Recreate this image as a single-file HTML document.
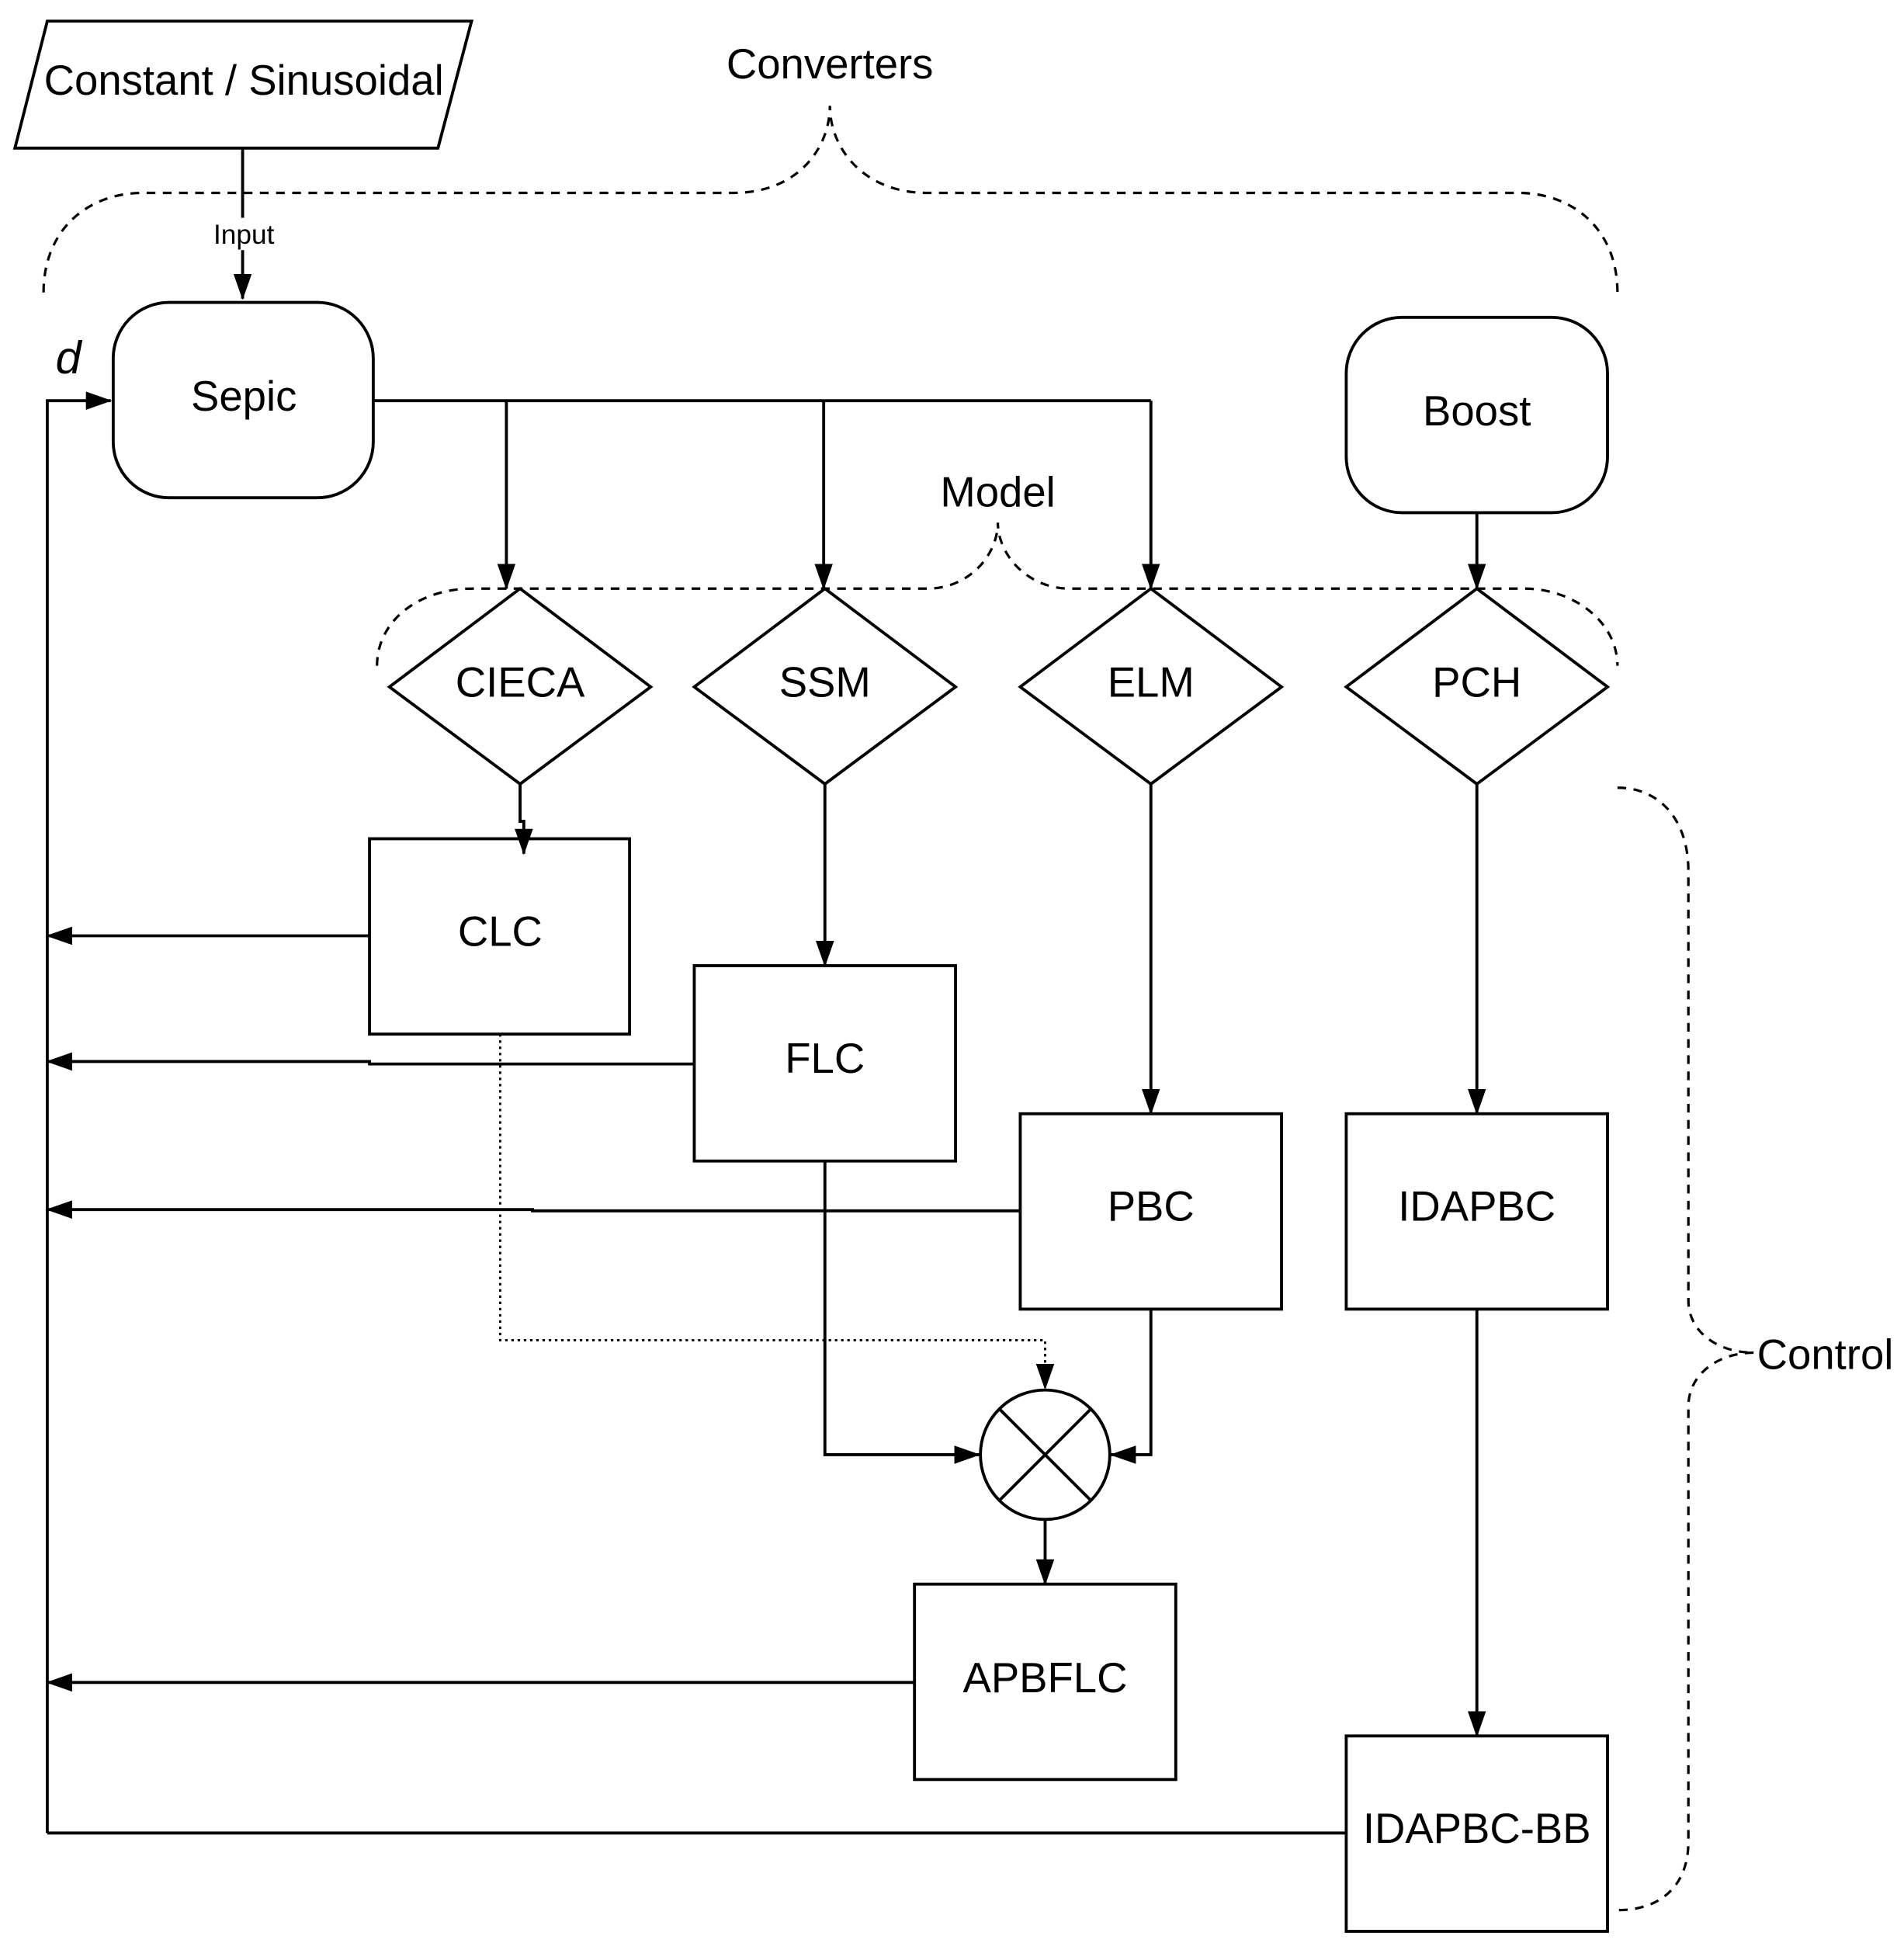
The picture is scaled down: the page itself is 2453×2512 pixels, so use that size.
<!DOCTYPE html>
<html><head><meta charset="utf-8"><style>html,body{margin:0;padding:0;background:#fff}svg{display:block}</style></head>
<body>
<svg width="2453" height="2512" viewBox="0 0 1530.3 1567" preserveAspectRatio="none" xmlns="http://www.w3.org/2000/svg" font-family="'Liberation Sans', sans-serif">
<defs>
<marker id="a" viewBox="0 0 20 14" refX="19" refY="7" markerWidth="21" markerHeight="15" markerUnits="userSpaceOnUse" orient="auto"><path d="M0,0 L20,7 L0,14 Z" fill="#000"/></marker>
</defs>
<rect width="1530.3" height="1567" fill="#fff"/>
<g fill="none" stroke="#000" stroke-width="2.4">
<g stroke-dasharray="7,6" stroke-width="2">
<path d="M35,235 C35,185 70,155 115,155 L590,155 C640,155 667,120 667,85 C667,120 695,155 745,155 L1220,155 C1265,155 1300,185 1300,235"/>
<path d="M303,535 C303,500 335,473 380,473 L745,473 C780,473 802,445 802,420 C802,445 825,473 860,473 L1225,473 C1265,473 1300,500 1300,535"/>
<path d="M1300,633 C1335,633 1357,660 1357,700 L1357,1045 C1357,1070 1380,1087 1410,1087 C1380,1087 1357,1105 1357,1130 L1357,1480 C1357,1515 1335,1535 1300,1535"/>
</g>
<path d="M38,17 L379,17 L352,119 L12,119 Z"/>
<rect x="91" y="243" width="209" height="157" rx="45"/>
<rect x="1082" y="255" width="210" height="157" rx="45"/>
<path d="M418,473 L523,552 L418,630 L313,552 Z"/>
<path d="M663,473 L768,552 L663,630 L558,552 Z"/>
<path d="M925,473 L1030,552 L925,630 L820,552 Z"/>
<path d="M1187,473 L1292,552 L1187,630 L1082,552 Z"/>
<rect x="297" y="674" width="209" height="157"/>
<rect x="558" y="776" width="210" height="157"/>
<rect x="820" y="895" width="210" height="157"/>
<rect x="1082" y="895" width="210" height="157"/>
<rect x="735" y="1273" width="210" height="157"/>
<rect x="1082" y="1395" width="210" height="157"/>
<circle cx="840" cy="1169" r="52"/>
<path d="M803,1132 L877,1206 M877,1132 L803,1206"/>
<path d="M195,119 L195,240" marker-end="url(#a)"/>
<path d="M38,1473 L38,322 L89,322" marker-end="url(#a)"/>
<path d="M1082,1473 L38,1473"/>
<path d="M300,322 L925,322"/>
<path d="M407,322 L407,473" marker-end="url(#a)"/>
<path d="M662,322 L662,473" marker-end="url(#a)"/>
<path d="M925,322 L925,473" marker-end="url(#a)"/>
<path d="M1187,412 L1187,473" marker-end="url(#a)"/>
<path d="M418,630 L418,660 L421,660 L421,686" marker-end="url(#a)"/>
<path d="M663,630 L663,776" marker-end="url(#a)"/>
<path d="M925,630 L925,895" marker-end="url(#a)"/>
<path d="M1187,630 L1187,895" marker-end="url(#a)"/>
<path d="M663,933 L663,1169 L787,1169" marker-end="url(#a)"/>
<path d="M925,1052 L925,1169 L893,1169" marker-end="url(#a)"/>
<path d="M402,831 L402,1077 L840,1077 L840,1116" stroke-dasharray="2,3" stroke-width="1.8" marker-end="url(#a)"/>
<path d="M840,1221 L840,1273" marker-end="url(#a)"/>
<path d="M1187,1052 L1187,1395" marker-end="url(#a)"/>
<path d="M297,752 L38,752" marker-end="url(#a)"/>
<path d="M558,855 L297,855 L297,853 L38,853" marker-end="url(#a)"/>
<path d="M820,973 L428,973 L428,972 L38,972" marker-end="url(#a)"/>
<path d="M735,1352 L38,1352" marker-end="url(#a)"/>
</g>
<rect x="168" y="175" width="56" height="26" fill="#fff"/>
<g fill="#000" text-anchor="middle" font-size="34">
<text x="196" y="76">Constant / Sinusoidal</text>
<text x="667" y="63">Converters</text>
<text x="196" y="196" font-size="22">Input</text>
<text x="55" y="300" font-size="37" font-style="italic">d</text>
<text x="196" y="330">Sepic</text>
<text x="1187" y="342">Boost</text>
<text x="802" y="407">Model</text>
<text x="418" y="560">CIECA</text>
<text x="663" y="560">SSM</text>
<text x="925" y="560">ELM</text>
<text x="1187" y="560">PCH</text>
<text x="402" y="760">CLC</text>
<text x="663" y="862">FLC</text>
<text x="925" y="981">PBC</text>
<text x="1187" y="981">IDAPBC</text>
<text x="840" y="1360">APBFLC</text>
<text x="1187" y="1481">IDAPBC-BB</text>
<text x="1467" y="1100">Control</text>
</g>
</svg>
</body></html>
